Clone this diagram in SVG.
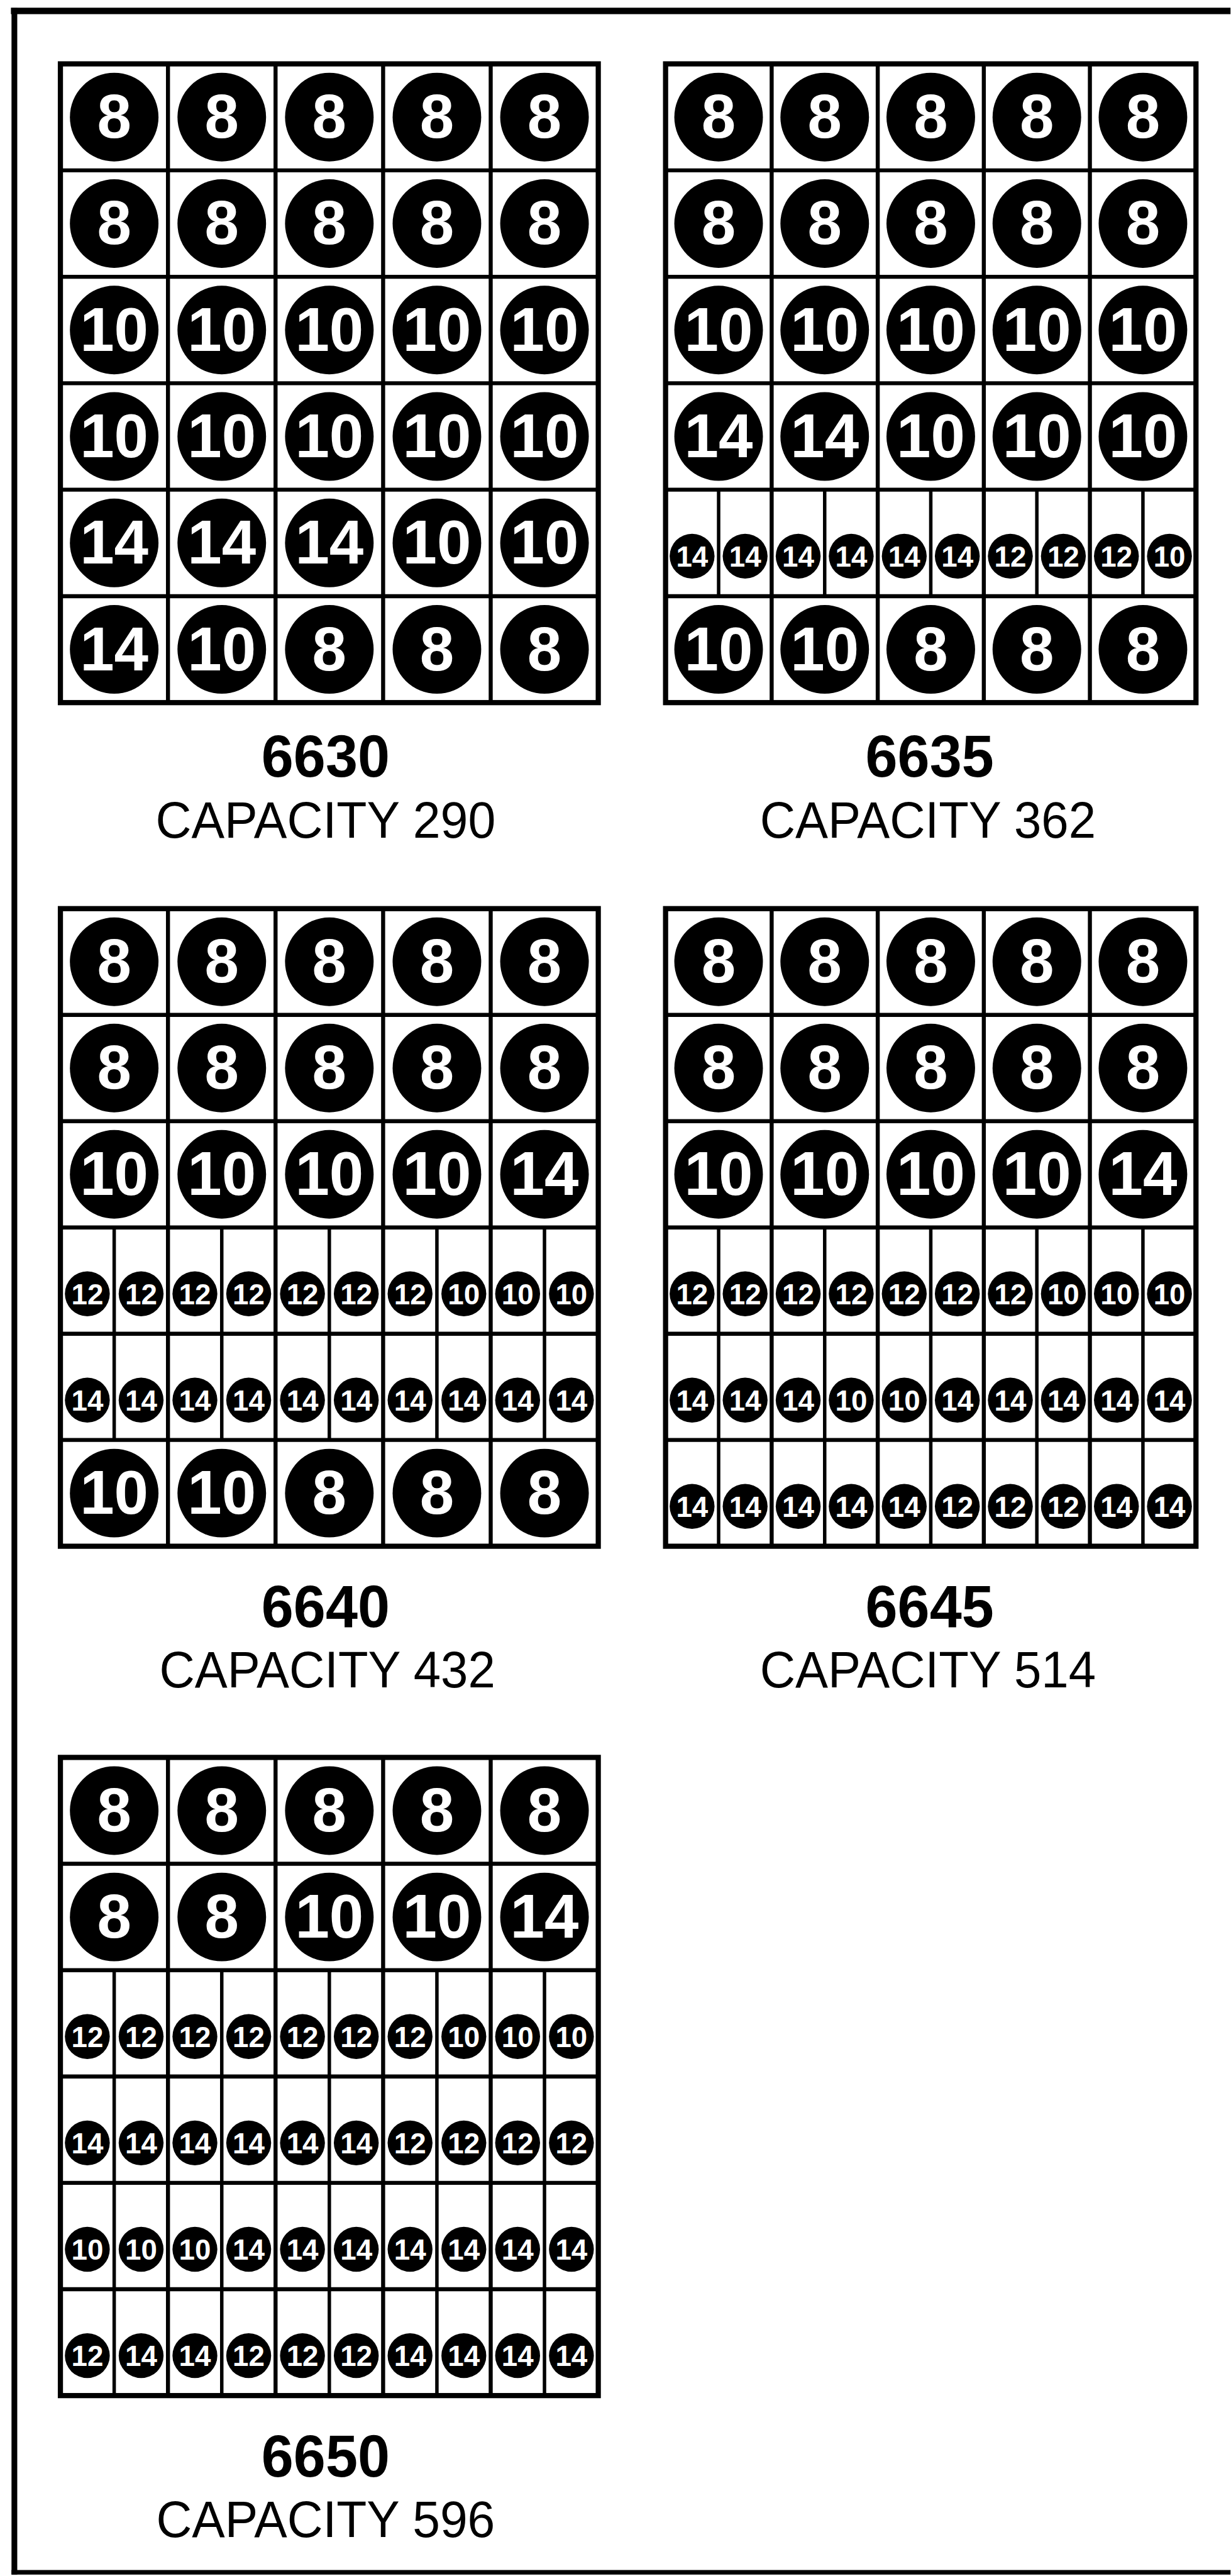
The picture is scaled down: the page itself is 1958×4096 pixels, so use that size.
<svg xmlns="http://www.w3.org/2000/svg" width="1958" height="4096" viewBox="0 0 1958 4096">
<style>
.frame{stroke:#000;fill:none}
.ob{fill:none;stroke:#000;stroke-width:9}
.il{fill:none;stroke:#000;stroke-width:7}
.sl{fill:none;stroke:#000;stroke-width:6}
.big circle,.sm circle{fill:#000}
.big text{fill:#fff;font-family:"Liberation Sans",Arial,sans-serif;font-weight:bold;font-size:107px;text-anchor:middle}
.sm text{fill:#fff;font-family:"Liberation Sans",Arial,sans-serif;font-weight:bold;font-size:50px;text-anchor:middle}
.num{fill:#000;font-family:"Liberation Sans",Arial,sans-serif;font-weight:bold;font-size:104px;text-anchor:middle}
.cap{fill:#000;font-family:"Liberation Sans",Arial,sans-serif;font-size:89px;text-anchor:middle}
</style>
<rect x="0" y="0" width="1958" height="4096" fill="#fff"/>
<g transform="scale(0.915)">
<g id="frame">
<line class="frame" x1="19" y1="19" x2="2139" y2="19" stroke-width="11"/>
<line class="frame" x1="25" y1="14" x2="25" y2="4474" stroke-width="10"/>
<line class="frame" x1="20" y1="4470" x2="2139" y2="4470" stroke-width="8"/>
</g>

<g id="g6630">
<rect class="ob" x="105" y="111" width="935" height="1110"/>
<path class="il" d="M105 296H1040M105 481H1040M105 666H1040M105 851H1040M105 1036H1040M292 111V1221M479 111V1221M666 111V1221M853 111V1221"/>
<g class="big">
<circle cx="198.5" cy="203.5" r="77"/><text x="198.5" y="239.5">8</text>
<circle cx="385.5" cy="203.5" r="77"/><text x="385.5" y="239.5">8</text>
<circle cx="572.5" cy="203.5" r="77"/><text x="572.5" y="239.5">8</text>
<circle cx="759.5" cy="203.5" r="77"/><text x="759.5" y="239.5">8</text>
<circle cx="946.5" cy="203.5" r="77"/><text x="946.5" y="239.5">8</text>
<circle cx="198.5" cy="388.5" r="77"/><text x="198.5" y="424.5">8</text>
<circle cx="385.5" cy="388.5" r="77"/><text x="385.5" y="424.5">8</text>
<circle cx="572.5" cy="388.5" r="77"/><text x="572.5" y="424.5">8</text>
<circle cx="759.5" cy="388.5" r="77"/><text x="759.5" y="424.5">8</text>
<circle cx="946.5" cy="388.5" r="77"/><text x="946.5" y="424.5">8</text>
<circle cx="198.5" cy="573.5" r="77"/><text x="198.5" y="609.5">10</text>
<circle cx="385.5" cy="573.5" r="77"/><text x="385.5" y="609.5">10</text>
<circle cx="572.5" cy="573.5" r="77"/><text x="572.5" y="609.5">10</text>
<circle cx="759.5" cy="573.5" r="77"/><text x="759.5" y="609.5">10</text>
<circle cx="946.5" cy="573.5" r="77"/><text x="946.5" y="609.5">10</text>
<circle cx="198.5" cy="758.5" r="77"/><text x="198.5" y="794.5">10</text>
<circle cx="385.5" cy="758.5" r="77"/><text x="385.5" y="794.5">10</text>
<circle cx="572.5" cy="758.5" r="77"/><text x="572.5" y="794.5">10</text>
<circle cx="759.5" cy="758.5" r="77"/><text x="759.5" y="794.5">10</text>
<circle cx="946.5" cy="758.5" r="77"/><text x="946.5" y="794.5">10</text>
<circle cx="198.5" cy="943.5" r="77"/><text x="198.5" y="979.5">14</text>
<circle cx="385.5" cy="943.5" r="77"/><text x="385.5" y="979.5">14</text>
<circle cx="572.5" cy="943.5" r="77"/><text x="572.5" y="979.5">14</text>
<circle cx="759.5" cy="943.5" r="77"/><text x="759.5" y="979.5">10</text>
<circle cx="946.5" cy="943.5" r="77"/><text x="946.5" y="979.5">10</text>
<circle cx="198.5" cy="1128.5" r="77"/><text x="198.5" y="1164.5">14</text>
<circle cx="385.5" cy="1128.5" r="77"/><text x="385.5" y="1164.5">10</text>
<circle cx="572.5" cy="1128.5" r="77"/><text x="572.5" y="1164.5">8</text>
<circle cx="759.5" cy="1128.5" r="77"/><text x="759.5" y="1164.5">8</text>
<circle cx="946.5" cy="1128.5" r="77"/><text x="946.5" y="1164.5">8</text>
</g>
<text class="num" x="566" y="1350" textLength="223" lengthAdjust="spacingAndGlyphs">6630</text>
<text class="cap" x="566" y="1456" textLength="591" lengthAdjust="spacingAndGlyphs">CAPACITY 290</text>
</g>

<g id="g6635">
<rect class="ob" x="1157" y="111" width="922" height="1110"/>
<path class="il" d="M1157 296H2079M1157 481H2079M1157 666H2079M1157 851H2079M1157 1036H2079M1341.4 111V1221M1525.8 111V1221M1710.2 111V1221M1894.6 111V1221"/>
<path class="sl" d="M1249.2 851V1036M1433.6 851V1036M1618 851V1036M1802.4 851V1036M1986.8 851V1036"/>
<g class="big">
<circle cx="1249.2" cy="203.5" r="77"/><text x="1249.2" y="239.5">8</text>
<circle cx="1433.6" cy="203.5" r="77"/><text x="1433.6" y="239.5">8</text>
<circle cx="1618" cy="203.5" r="77"/><text x="1618" y="239.5">8</text>
<circle cx="1802.4" cy="203.5" r="77"/><text x="1802.4" y="239.5">8</text>
<circle cx="1986.8" cy="203.5" r="77"/><text x="1986.8" y="239.5">8</text>
<circle cx="1249.2" cy="388.5" r="77"/><text x="1249.2" y="424.5">8</text>
<circle cx="1433.6" cy="388.5" r="77"/><text x="1433.6" y="424.5">8</text>
<circle cx="1618" cy="388.5" r="77"/><text x="1618" y="424.5">8</text>
<circle cx="1802.4" cy="388.5" r="77"/><text x="1802.4" y="424.5">8</text>
<circle cx="1986.8" cy="388.5" r="77"/><text x="1986.8" y="424.5">8</text>
<circle cx="1249.2" cy="573.5" r="77"/><text x="1249.2" y="609.5">10</text>
<circle cx="1433.6" cy="573.5" r="77"/><text x="1433.6" y="609.5">10</text>
<circle cx="1618" cy="573.5" r="77"/><text x="1618" y="609.5">10</text>
<circle cx="1802.4" cy="573.5" r="77"/><text x="1802.4" y="609.5">10</text>
<circle cx="1986.8" cy="573.5" r="77"/><text x="1986.8" y="609.5">10</text>
<circle cx="1249.2" cy="758.5" r="77"/><text x="1249.2" y="794.5">14</text>
<circle cx="1433.6" cy="758.5" r="77"/><text x="1433.6" y="794.5">14</text>
<circle cx="1618" cy="758.5" r="77"/><text x="1618" y="794.5">10</text>
<circle cx="1802.4" cy="758.5" r="77"/><text x="1802.4" y="794.5">10</text>
<circle cx="1986.8" cy="758.5" r="77"/><text x="1986.8" y="794.5">10</text>
<circle cx="1249.2" cy="1128.5" r="77"/><text x="1249.2" y="1164.5">10</text>
<circle cx="1433.6" cy="1128.5" r="77"/><text x="1433.6" y="1164.5">10</text>
<circle cx="1618" cy="1128.5" r="77"/><text x="1618" y="1164.5">8</text>
<circle cx="1802.4" cy="1128.5" r="77"/><text x="1802.4" y="1164.5">8</text>
<circle cx="1986.8" cy="1128.5" r="77"/><text x="1986.8" y="1164.5">8</text>
</g>
<g class="sm">
<circle cx="1203.1" cy="966.5" r="39"/><text x="1203.1" y="984.5">14</text>
<circle cx="1295.3" cy="966.5" r="39"/><text x="1295.3" y="984.5">14</text>
<circle cx="1387.5" cy="966.5" r="39"/><text x="1387.5" y="984.5">14</text>
<circle cx="1479.7" cy="966.5" r="39"/><text x="1479.7" y="984.5">14</text>
<circle cx="1571.9" cy="966.5" r="39"/><text x="1571.9" y="984.5">14</text>
<circle cx="1664.1" cy="966.5" r="39"/><text x="1664.1" y="984.5">14</text>
<circle cx="1756.3" cy="966.5" r="39"/><text x="1756.3" y="984.5">12</text>
<circle cx="1848.5" cy="966.5" r="39"/><text x="1848.5" y="984.5">12</text>
<circle cx="1940.7" cy="966.5" r="39"/><text x="1940.7" y="984.5">12</text>
<circle cx="2032.9" cy="966.5" r="39"/><text x="2032.9" y="984.5">10</text>
</g>
<text class="num" x="1616" y="1350" textLength="223" lengthAdjust="spacingAndGlyphs">6635</text>
<text class="cap" x="1613" y="1456" textLength="584" lengthAdjust="spacingAndGlyphs">CAPACITY 362</text>
</g>

<g id="g6640">
<rect class="ob" x="105" y="1579" width="935" height="1108"/>
<path class="il" d="M105 1763.7H1040M105 1948.3H1040M105 2133H1040M105 2317.7H1040M105 2502.3H1040M292 1579V2687M479 1579V2687M666 1579V2687M853 1579V2687"/>
<path class="sl" d="M198.5 2133V2502.3M385.5 2133V2502.3M572.5 2133V2502.3M759.5 2133V2502.3M946.5 2133V2502.3"/>
<g class="big">
<circle cx="198.5" cy="1671.3" r="77"/><text x="198.5" y="1707.3">8</text>
<circle cx="385.5" cy="1671.3" r="77"/><text x="385.5" y="1707.3">8</text>
<circle cx="572.5" cy="1671.3" r="77"/><text x="572.5" y="1707.3">8</text>
<circle cx="759.5" cy="1671.3" r="77"/><text x="759.5" y="1707.3">8</text>
<circle cx="946.5" cy="1671.3" r="77"/><text x="946.5" y="1707.3">8</text>
<circle cx="198.5" cy="1856" r="77"/><text x="198.5" y="1892">8</text>
<circle cx="385.5" cy="1856" r="77"/><text x="385.5" y="1892">8</text>
<circle cx="572.5" cy="1856" r="77"/><text x="572.5" y="1892">8</text>
<circle cx="759.5" cy="1856" r="77"/><text x="759.5" y="1892">8</text>
<circle cx="946.5" cy="1856" r="77"/><text x="946.5" y="1892">8</text>
<circle cx="198.5" cy="2040.7" r="77"/><text x="198.5" y="2076.7">10</text>
<circle cx="385.5" cy="2040.7" r="77"/><text x="385.5" y="2076.7">10</text>
<circle cx="572.5" cy="2040.7" r="77"/><text x="572.5" y="2076.7">10</text>
<circle cx="759.5" cy="2040.7" r="77"/><text x="759.5" y="2076.7">10</text>
<circle cx="946.5" cy="2040.7" r="77"/><text x="946.5" y="2076.7">14</text>
<circle cx="198.5" cy="2594.7" r="77"/><text x="198.5" y="2630.7">10</text>
<circle cx="385.5" cy="2594.7" r="77"/><text x="385.5" y="2630.7">10</text>
<circle cx="572.5" cy="2594.7" r="77"/><text x="572.5" y="2630.7">8</text>
<circle cx="759.5" cy="2594.7" r="77"/><text x="759.5" y="2630.7">8</text>
<circle cx="946.5" cy="2594.7" r="77"/><text x="946.5" y="2630.7">8</text>
</g>
<g class="sm">
<circle cx="151.8" cy="2248.3" r="39"/><text x="151.8" y="2266.3">12</text>
<circle cx="245.3" cy="2248.3" r="39"/><text x="245.3" y="2266.3">12</text>
<circle cx="338.8" cy="2248.3" r="39"/><text x="338.8" y="2266.3">12</text>
<circle cx="432.3" cy="2248.3" r="39"/><text x="432.3" y="2266.3">12</text>
<circle cx="525.8" cy="2248.3" r="39"/><text x="525.8" y="2266.3">12</text>
<circle cx="619.3" cy="2248.3" r="39"/><text x="619.3" y="2266.3">12</text>
<circle cx="712.8" cy="2248.3" r="39"/><text x="712.8" y="2266.3">12</text>
<circle cx="806.3" cy="2248.3" r="39"/><text x="806.3" y="2266.3">10</text>
<circle cx="899.8" cy="2248.3" r="39"/><text x="899.8" y="2266.3">10</text>
<circle cx="993.3" cy="2248.3" r="39"/><text x="993.3" y="2266.3">10</text>
<circle cx="151.8" cy="2433" r="39"/><text x="151.8" y="2451">14</text>
<circle cx="245.3" cy="2433" r="39"/><text x="245.3" y="2451">14</text>
<circle cx="338.8" cy="2433" r="39"/><text x="338.8" y="2451">14</text>
<circle cx="432.3" cy="2433" r="39"/><text x="432.3" y="2451">14</text>
<circle cx="525.8" cy="2433" r="39"/><text x="525.8" y="2451">14</text>
<circle cx="619.3" cy="2433" r="39"/><text x="619.3" y="2451">14</text>
<circle cx="712.8" cy="2433" r="39"/><text x="712.8" y="2451">14</text>
<circle cx="806.3" cy="2433" r="39"/><text x="806.3" y="2451">14</text>
<circle cx="899.8" cy="2433" r="39"/><text x="899.8" y="2451">14</text>
<circle cx="993.3" cy="2433" r="39"/><text x="993.3" y="2451">14</text>
</g>
<text class="num" x="566" y="2827" textLength="223" lengthAdjust="spacingAndGlyphs">6640</text>
<text class="cap" x="569" y="2932" textLength="584" lengthAdjust="spacingAndGlyphs">CAPACITY 432</text>
</g>

<g id="g6645">
<rect class="ob" x="1157" y="1579" width="922" height="1108"/>
<path class="il" d="M1157 1763.7H2079M1157 1948.3H2079M1157 2133H2079M1157 2317.7H2079M1157 2502.3H2079M1341.4 1579V2687M1525.8 1579V2687M1710.2 1579V2687M1894.6 1579V2687"/>
<path class="sl" d="M1249.2 2133V2687M1433.6 2133V2687M1618 2133V2687M1802.4 2133V2687M1986.8 2133V2687"/>
<g class="big">
<circle cx="1249.2" cy="1671.3" r="77"/><text x="1249.2" y="1707.3">8</text>
<circle cx="1433.6" cy="1671.3" r="77"/><text x="1433.6" y="1707.3">8</text>
<circle cx="1618" cy="1671.3" r="77"/><text x="1618" y="1707.3">8</text>
<circle cx="1802.4" cy="1671.3" r="77"/><text x="1802.4" y="1707.3">8</text>
<circle cx="1986.8" cy="1671.3" r="77"/><text x="1986.8" y="1707.3">8</text>
<circle cx="1249.2" cy="1856" r="77"/><text x="1249.2" y="1892">8</text>
<circle cx="1433.6" cy="1856" r="77"/><text x="1433.6" y="1892">8</text>
<circle cx="1618" cy="1856" r="77"/><text x="1618" y="1892">8</text>
<circle cx="1802.4" cy="1856" r="77"/><text x="1802.4" y="1892">8</text>
<circle cx="1986.8" cy="1856" r="77"/><text x="1986.8" y="1892">8</text>
<circle cx="1249.2" cy="2040.7" r="77"/><text x="1249.2" y="2076.7">10</text>
<circle cx="1433.6" cy="2040.7" r="77"/><text x="1433.6" y="2076.7">10</text>
<circle cx="1618" cy="2040.7" r="77"/><text x="1618" y="2076.7">10</text>
<circle cx="1802.4" cy="2040.7" r="77"/><text x="1802.4" y="2076.7">10</text>
<circle cx="1986.8" cy="2040.7" r="77"/><text x="1986.8" y="2076.7">14</text>
</g>
<g class="sm">
<circle cx="1203.1" cy="2248.3" r="39"/><text x="1203.1" y="2266.3">12</text>
<circle cx="1295.3" cy="2248.3" r="39"/><text x="1295.3" y="2266.3">12</text>
<circle cx="1387.5" cy="2248.3" r="39"/><text x="1387.5" y="2266.3">12</text>
<circle cx="1479.7" cy="2248.3" r="39"/><text x="1479.7" y="2266.3">12</text>
<circle cx="1571.9" cy="2248.3" r="39"/><text x="1571.9" y="2266.3">12</text>
<circle cx="1664.1" cy="2248.3" r="39"/><text x="1664.1" y="2266.3">12</text>
<circle cx="1756.3" cy="2248.3" r="39"/><text x="1756.3" y="2266.3">12</text>
<circle cx="1848.5" cy="2248.3" r="39"/><text x="1848.5" y="2266.3">10</text>
<circle cx="1940.7" cy="2248.3" r="39"/><text x="1940.7" y="2266.3">10</text>
<circle cx="2032.9" cy="2248.3" r="39"/><text x="2032.9" y="2266.3">10</text>
<circle cx="1203.1" cy="2433" r="39"/><text x="1203.1" y="2451">14</text>
<circle cx="1295.3" cy="2433" r="39"/><text x="1295.3" y="2451">14</text>
<circle cx="1387.5" cy="2433" r="39"/><text x="1387.5" y="2451">14</text>
<circle cx="1479.7" cy="2433" r="39"/><text x="1479.7" y="2451">10</text>
<circle cx="1571.9" cy="2433" r="39"/><text x="1571.9" y="2451">10</text>
<circle cx="1664.1" cy="2433" r="39"/><text x="1664.1" y="2451">14</text>
<circle cx="1756.3" cy="2433" r="39"/><text x="1756.3" y="2451">14</text>
<circle cx="1848.5" cy="2433" r="39"/><text x="1848.5" y="2451">14</text>
<circle cx="1940.7" cy="2433" r="39"/><text x="1940.7" y="2451">14</text>
<circle cx="2032.9" cy="2433" r="39"/><text x="2032.9" y="2451">14</text>
<circle cx="1203.1" cy="2617.7" r="39"/><text x="1203.1" y="2635.7">14</text>
<circle cx="1295.3" cy="2617.7" r="39"/><text x="1295.3" y="2635.7">14</text>
<circle cx="1387.5" cy="2617.7" r="39"/><text x="1387.5" y="2635.7">14</text>
<circle cx="1479.7" cy="2617.7" r="39"/><text x="1479.7" y="2635.7">14</text>
<circle cx="1571.9" cy="2617.7" r="39"/><text x="1571.9" y="2635.7">14</text>
<circle cx="1664.1" cy="2617.7" r="39"/><text x="1664.1" y="2635.7">12</text>
<circle cx="1756.3" cy="2617.7" r="39"/><text x="1756.3" y="2635.7">12</text>
<circle cx="1848.5" cy="2617.7" r="39"/><text x="1848.5" y="2635.7">12</text>
<circle cx="1940.7" cy="2617.7" r="39"/><text x="1940.7" y="2635.7">14</text>
<circle cx="2032.9" cy="2617.7" r="39"/><text x="2032.9" y="2635.7">14</text>
</g>
<text class="num" x="1616" y="2827" textLength="223" lengthAdjust="spacingAndGlyphs">6645</text>
<text class="cap" x="1613" y="2932" textLength="584" lengthAdjust="spacingAndGlyphs">CAPACITY 514</text>
</g>

<g id="g6650">
<rect class="ob" x="105" y="3054" width="935" height="1109"/>
<path class="il" d="M105 3238.8H1040M105 3423.7H1040M105 3608.5H1040M105 3793.3H1040M105 3978.2H1040M292 3054V4163M479 3054V4163M666 3054V4163M853 3054V4163"/>
<path class="sl" d="M198.5 3423.7V4163M385.5 3423.7V4163M572.5 3423.7V4163M759.5 3423.7V4163M946.5 3423.7V4163"/>
<g class="big">
<circle cx="198.5" cy="3146.4" r="77"/><text x="198.5" y="3182.4">8</text>
<circle cx="385.5" cy="3146.4" r="77"/><text x="385.5" y="3182.4">8</text>
<circle cx="572.5" cy="3146.4" r="77"/><text x="572.5" y="3182.4">8</text>
<circle cx="759.5" cy="3146.4" r="77"/><text x="759.5" y="3182.4">8</text>
<circle cx="946.5" cy="3146.4" r="77"/><text x="946.5" y="3182.4">8</text>
<circle cx="198.5" cy="3331.3" r="77"/><text x="198.5" y="3367.3">8</text>
<circle cx="385.5" cy="3331.3" r="77"/><text x="385.5" y="3367.3">8</text>
<circle cx="572.5" cy="3331.3" r="77"/><text x="572.5" y="3367.3">10</text>
<circle cx="759.5" cy="3331.3" r="77"/><text x="759.5" y="3367.3">10</text>
<circle cx="946.5" cy="3331.3" r="77"/><text x="946.5" y="3367.3">14</text>
</g>
<g class="sm">
<circle cx="151.8" cy="3539.1" r="39"/><text x="151.8" y="3557.1">12</text>
<circle cx="245.3" cy="3539.1" r="39"/><text x="245.3" y="3557.1">12</text>
<circle cx="338.8" cy="3539.1" r="39"/><text x="338.8" y="3557.1">12</text>
<circle cx="432.3" cy="3539.1" r="39"/><text x="432.3" y="3557.1">12</text>
<circle cx="525.8" cy="3539.1" r="39"/><text x="525.8" y="3557.1">12</text>
<circle cx="619.3" cy="3539.1" r="39"/><text x="619.3" y="3557.1">12</text>
<circle cx="712.8" cy="3539.1" r="39"/><text x="712.8" y="3557.1">12</text>
<circle cx="806.3" cy="3539.1" r="39"/><text x="806.3" y="3557.1">10</text>
<circle cx="899.8" cy="3539.1" r="39"/><text x="899.8" y="3557.1">10</text>
<circle cx="993.3" cy="3539.1" r="39"/><text x="993.3" y="3557.1">10</text>
<circle cx="151.8" cy="3723.9" r="39"/><text x="151.8" y="3741.9">14</text>
<circle cx="245.3" cy="3723.9" r="39"/><text x="245.3" y="3741.9">14</text>
<circle cx="338.8" cy="3723.9" r="39"/><text x="338.8" y="3741.9">14</text>
<circle cx="432.3" cy="3723.9" r="39"/><text x="432.3" y="3741.9">14</text>
<circle cx="525.8" cy="3723.9" r="39"/><text x="525.8" y="3741.9">14</text>
<circle cx="619.3" cy="3723.9" r="39"/><text x="619.3" y="3741.9">14</text>
<circle cx="712.8" cy="3723.9" r="39"/><text x="712.8" y="3741.9">12</text>
<circle cx="806.3" cy="3723.9" r="39"/><text x="806.3" y="3741.9">12</text>
<circle cx="899.8" cy="3723.9" r="39"/><text x="899.8" y="3741.9">12</text>
<circle cx="993.3" cy="3723.9" r="39"/><text x="993.3" y="3741.9">12</text>
<circle cx="151.8" cy="3908.8" r="39"/><text x="151.8" y="3926.8">10</text>
<circle cx="245.3" cy="3908.8" r="39"/><text x="245.3" y="3926.8">10</text>
<circle cx="338.8" cy="3908.8" r="39"/><text x="338.8" y="3926.8">10</text>
<circle cx="432.3" cy="3908.8" r="39"/><text x="432.3" y="3926.8">14</text>
<circle cx="525.8" cy="3908.8" r="39"/><text x="525.8" y="3926.8">14</text>
<circle cx="619.3" cy="3908.8" r="39"/><text x="619.3" y="3926.8">14</text>
<circle cx="712.8" cy="3908.8" r="39"/><text x="712.8" y="3926.8">14</text>
<circle cx="806.3" cy="3908.8" r="39"/><text x="806.3" y="3926.8">14</text>
<circle cx="899.8" cy="3908.8" r="39"/><text x="899.8" y="3926.8">14</text>
<circle cx="993.3" cy="3908.8" r="39"/><text x="993.3" y="3926.8">14</text>
<circle cx="151.8" cy="4093.6" r="39"/><text x="151.8" y="4111.6">12</text>
<circle cx="245.3" cy="4093.6" r="39"/><text x="245.3" y="4111.6">14</text>
<circle cx="338.8" cy="4093.6" r="39"/><text x="338.8" y="4111.6">14</text>
<circle cx="432.3" cy="4093.6" r="39"/><text x="432.3" y="4111.6">12</text>
<circle cx="525.8" cy="4093.6" r="39"/><text x="525.8" y="4111.6">12</text>
<circle cx="619.3" cy="4093.6" r="39"/><text x="619.3" y="4111.6">12</text>
<circle cx="712.8" cy="4093.6" r="39"/><text x="712.8" y="4111.6">14</text>
<circle cx="806.3" cy="4093.6" r="39"/><text x="806.3" y="4111.6">14</text>
<circle cx="899.8" cy="4093.6" r="39"/><text x="899.8" y="4111.6">14</text>
<circle cx="993.3" cy="4093.6" r="39"/><text x="993.3" y="4111.6">14</text>
</g>
<text class="num" x="566" y="4304" textLength="223" lengthAdjust="spacingAndGlyphs">6650</text>
<text class="cap" x="566" y="4409" textLength="589" lengthAdjust="spacingAndGlyphs">CAPACITY 596</text>
</g>
</g>
</svg>
